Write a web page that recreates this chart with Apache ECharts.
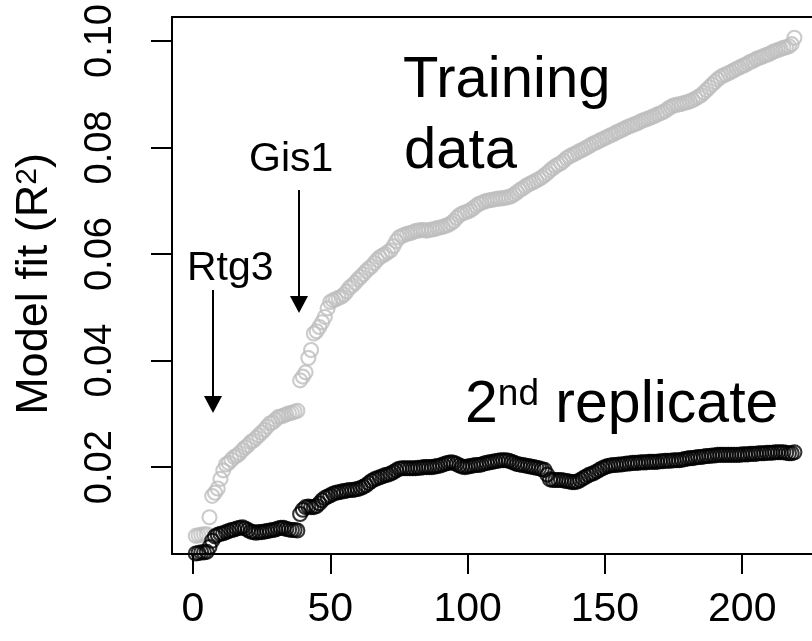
<!DOCTYPE html>
<html><head><meta charset="utf-8">
<script src="https://cdn.jsdelivr.net/npm/echarts@6/dist/echarts.min.js"></script>
<style>html,body{margin:0;padding:0;background:#fff}#c{width:812px;height:641px}</style>
</head><body><div id="c"></div>
<script>
const xTicks = [0, 50, 100, 150, 200];
const yTicks = [0.02, 0.04, 0.06, 0.08, 0.10];

const trainingValues = [
  0.0071,0.0072,0.0073,0.0074,0.0074,0.0106,0.0146,0.0152,0.0160,0.0178,
  0.0194,0.0205,0.0208,0.0214,0.0219,0.0222,0.0226,0.0232,0.0237,0.0241,
  0.0247,0.0250,0.0255,0.0260,0.0265,0.0270,0.0276,0.0282,0.0284,0.0289,
  0.0294,0.0295,0.0297,0.0299,0.0301,0.0302,0.0304,0.0306,
  0.0363,0.0370,0.0378,0.0405,0.0420,0.0451,0.0455,0.0463,0.0472,0.0482,0.0498,0.0510,
  0.0513,0.0515,0.0518,0.0520,0.0524,0.0530,0.0537,0.0541,0.0546,0.0552,
  0.0557,0.0562,0.0568,0.0573,0.0577,0.0583,0.0589,0.0594,0.0597,0.0600,
  0.0604,0.0607,0.0615,0.0624,0.0631,0.0634,0.0636,0.0638,0.0639,0.0641,
  0.0643,0.0644,0.0645,0.0645,0.0644,0.0645,0.0646,0.0647,0.0649,0.0650,
  0.0651,0.0653,0.0655,0.0658,0.0662,0.0668,0.0673,0.0676,0.0678,0.0680,
  0.0682,0.0686,0.0690,0.0694,0.0696,0.0698,0.0700,0.0701,0.0702,0.0703,
  0.0704,0.0704,0.0705,0.0706,0.0707,0.0709,0.0712,0.0716,0.0720,0.0723,
  0.0727,0.0730,0.0733,0.0735,0.0738,0.0741,0.0744,0.0748,0.0752,0.0757,
  0.0761,0.0765,0.0768,0.0771,0.0775,0.0780,0.0783,0.0786,0.0788,0.0791,
  0.0794,0.0796,0.0799,0.0802,0.0805,0.0808,0.0810,0.0813,0.0815,0.0818,
  0.0820,0.0823,0.0825,0.0828,0.0830,0.0833,0.0835,0.0838,0.0840,0.0842,
  0.0844,0.0846,0.0849,0.0851,0.0853,0.0855,0.0857,0.0859,0.0862,0.0864,
  0.0866,0.0869,0.0873,0.0876,0.0879,0.0880,0.0881,0.0882,0.0884,0.0885,
  0.0887,0.0889,0.0892,0.0895,0.0898,0.0903,0.0908,0.0913,0.0918,0.0923,
  0.0928,0.0932,0.0935,0.0937,0.0940,0.0942,0.0945,0.0948,0.0950,0.0953,
  0.0955,0.0958,0.0961,0.0963,0.0966,0.0968,0.0970,0.0972,0.0974,0.0976,
  0.0979,0.0981,0.0983,0.0985,0.0987,0.0988,0.0990,0.0994,0.1006
];

const replicateValues = [
  0.0038,0.0039,0.0040,0.0040,0.0041,0.0050,0.0062,0.0070,0.0073,0.0075,
  0.0076,0.0078,0.0080,0.0082,0.0083,0.0085,0.0086,0.0087,0.0085,0.0082,
  0.0079,0.0078,0.0077,0.0078,0.0078,0.0079,0.0080,0.0081,0.0082,0.0083,
  0.0085,0.0086,0.0086,0.0084,0.0083,0.0082,0.0082,0.0081,
  0.0112,0.0120,0.0125,0.0126,0.0125,0.0125,0.0127,0.0132,0.0138,0.0142,0.0145,0.0147,
  0.0150,0.0152,0.0153,0.0154,0.0155,0.0156,0.0157,0.0157,0.0158,0.0159,
  0.0161,0.0163,0.0166,0.0170,0.0174,0.0177,0.0179,0.0181,0.0183,0.0185,
  0.0186,0.0188,0.0191,0.0194,0.0197,0.0198,0.0198,0.0198,0.0198,0.0198,
  0.0198,0.0199,0.0199,0.0200,0.0200,0.0200,0.0200,0.0201,0.0202,0.0203,
  0.0205,0.0207,0.0208,0.0209,0.0208,0.0206,0.0203,0.0201,0.0200,0.0201,
  0.0202,0.0203,0.0204,0.0204,0.0205,0.0207,0.0208,0.0209,0.0210,0.0211,
  0.0212,0.0213,0.0213,0.0213,0.0212,0.0210,0.0208,0.0206,0.0205,0.0204,
  0.0203,0.0202,0.0201,0.0200,0.0199,0.0198,0.0196,0.0195,0.0186,0.0177,
  0.0176,0.0176,0.0176,0.0176,0.0175,0.0174,0.0173,0.0172,0.0172,0.0173,
  0.0176,0.0179,0.0182,0.0185,0.0187,0.0189,0.0192,0.0195,0.0198,0.0200,
  0.0202,0.0203,0.0204,0.0204,0.0205,0.0205,0.0206,0.0207,0.0207,0.0208,
  0.0208,0.0208,0.0209,0.0209,0.0209,0.0210,0.0210,0.0210,0.0210,0.0211,
  0.0211,0.0212,0.0212,0.0212,0.0213,0.0213,0.0213,0.0214,0.0215,0.0216,
  0.0217,0.0217,0.0218,0.0219,0.0219,0.0220,0.0221,0.0221,0.0222,0.0222,
  0.0223,0.0223,0.0223,0.0223,0.0223,0.0223,0.0223,0.0223,0.0223,0.0224,
  0.0224,0.0224,0.0225,0.0225,0.0225,0.0226,0.0226,0.0226,0.0227,0.0227,
  0.0227,0.0228,0.0228,0.0228,0.0228,0.0227,0.0226,0.0226,0.0228
];

const FONT = '"Liberation Sans", Arial, Helvetica, sans-serif';
const toPairs = vals => vals.map((v, i) => [i + 1, v]);

const chart = echarts.init(document.getElementById('c'), null, {renderer: 'canvas'});

const X_MIN = -7.65, X_MAX = 225.4, Y_MIN = 0.0037, Y_MAX = 0.1045;

const markerStyle = (c) => ({
  color: 'rgba(0,0,0,0)', borderColor: c, borderWidth: 2.1
});

chart.setOption({
  animation: false,
  backgroundColor: '#fff',
  grid: {left: 172, top: 17, right: 0, bottom: 87, show: false},
  xAxis: [{
    type: 'value', min: X_MIN, max: X_MAX, position: 'bottom',
    splitLine: {show: false},
    axisLine: {show: true, onZero: false, lineStyle: {color: '#000', width: 2}},
    axisTick: {show: true, customValues: xTicks, length: 20, lineStyle: {color: '#000', width: 2}},
    axisLabel: {show: true, customValues: xTicks, margin: 35, color: '#000', fontSize: 41, fontFamily: FONT,
      formatter: v => String(v)}
  }, {
    type: 'value', min: X_MIN, max: X_MAX, position: 'top',
    splitLine: {show: false},
    axisLine: {show: true, onZero: false, lineStyle: {color: '#000', width: 2}},
    axisTick: {show: false}, axisLabel: {show: false}
  }],
  yAxis: {
    type: 'value', min: Y_MIN, max: Y_MAX,
    splitLine: {show: false},
    axisLine: {show: true, onZero: false, lineStyle: {color: '#000', width: 2}},
    axisTick: {show: true, customValues: yTicks, length: 21, lineStyle: {color: '#000', width: 2}},
    axisLabel: {show: true, customValues: yTicks, rotate: 90, margin: 52, color: '#000', fontSize: 38, fontFamily: FONT,
      formatter: v => v.toFixed(2)}
  },
  series: [{
    name: 'Training data', type: 'scatter', xAxisIndex: 0,
    data: toPairs(trainingValues),
    symbol: 'circle', symbolSize: 14,
    itemStyle: markerStyle('#bebebe'),
    emphasis: {disabled: true}
  }, {
    name: '2nd replicate', type: 'scatter', xAxisIndex: 0,
    data: toPairs(replicateValues),
    symbol: 'circle', symbolSize: 14,
    itemStyle: markerStyle('#000'),
    emphasis: {disabled: true}
  }],
  graphic: [
    {type: 'text', x: 35, y: 284, rotation: Math.PI / 2,
      style: {text: '{a|Model fit (R}{b|2}{a|)}', align: 'center', verticalAlign: 'middle',
        textAlign: 'center', textVerticalAlign: 'middle',
        rich: {a: {fontSize: 45, fontFamily: FONT, fill: '#000', color: '#000'},
               b: {fontSize: 30, fontFamily: FONT, fill: '#000', color: '#000', verticalAlign: 'top'}}}},
    {type: 'text', x: 403, y: 110,
      style: {text: 'Training', font: '58px ' + FONT, fill: '#000', align: 'left', verticalAlign: 'bottom', textAlign: 'left', textVerticalAlign: 'bottom'}},
    {type: 'text', x: 404, y: 181,
      style: {text: 'data', font: '58px ' + FONT, fill: '#000', align: 'left', verticalAlign: 'bottom', textAlign: 'left', textVerticalAlign: 'bottom'}},
    {type: 'text', x: 465, y: 435,
      style: {text: '{a|2}{b|nd}{a| replicate}', align: 'left', verticalAlign: 'bottom', textAlign: 'left', textVerticalAlign: 'bottom',
        rich: {a: {fontSize: 59, fontFamily: FONT, fill: '#000', color: '#000'},
               b: {fontSize: 37, fontFamily: FONT, fill: '#000', color: '#000', verticalAlign: 'top'}}}},
    {type: 'text', x: 249, y: 180,
      style: {text: 'Gis1', font: '41px ' + FONT, fill: '#000', align: 'left', verticalAlign: 'bottom', textAlign: 'left', textVerticalAlign: 'bottom'}},
    {type: 'text', x: 187, y: 289,
      style: {text: 'Rtg3', font: '41px ' + FONT, fill: '#000', align: 'left', verticalAlign: 'bottom', textAlign: 'left', textVerticalAlign: 'bottom'}},
    {type: 'line', shape: {x1: 299, y1: 190, x2: 299, y2: 298}, style: {stroke: '#000', lineWidth: 2}},
    {type: 'polygon', shape: {points: [[290, 296], [308, 296], [299, 313]]}, style: {fill: '#000'}},
    {type: 'line', shape: {x1: 213, y1: 290, x2: 213, y2: 398}, style: {stroke: '#000', lineWidth: 2}},
    {type: 'polygon', shape: {points: [[204, 396], [222, 396], [213, 413]]}, style: {fill: '#000'}}
  ]
});
</script>
</body></html>
